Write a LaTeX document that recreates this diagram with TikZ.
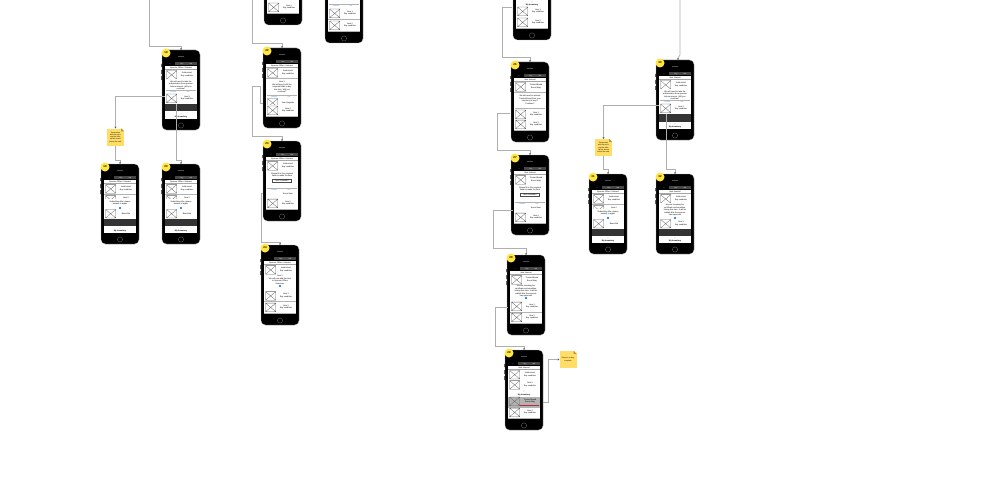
\documentclass[tikz,border=0pt]{standalone}
\usepackage{fontspec}
\setmainfont{Liberation Sans}
\usetikzlibrary{arrows.meta}
\definecolor{notecol}{RGB}{255, 221, 102}
\definecolor{badgecol}{RGB}{255, 230, 70}
\definecolor{linkcol}{RGB}{175, 175, 175}
\definecolor{bandcol}{RGB}{52, 52, 52}
\definecolor{tabcol}{RGB}{70, 70, 70}
\definecolor{bluecol}{RGB}{60, 140, 235}
\definecolor{redcol}{RGB}{190, 40, 60}
\newcommand{\tinytext}{\fontsize{2}{2.5}\selectfont}
\tikzset{
    phone/.style={
        rectangle,
        rounded corners=4.5pt,
        fill=black,
        draw=black!35,
        line width=0.2pt,
        minimum width=38pt,
        minimum height=80pt,
        inner sep=0pt
    },
    badge/.style={
        circle,
        fill=badgecol,
        minimum size=9pt,
        inner sep=0pt,
        font=\fontsize{2.8}{3}\selectfont\bfseries
    },
    label/.style={
        align=center,
        inner sep=0pt,
        font=\tinytext
    },
    button/.style={
        inner sep=0pt,
        text=bluecol,
        font=\tinytext
    },
    tabitem/.style={
        inner sep=0pt,
        text=white,
        font=\fontsize{1.6}{2}\selectfont
    },
    photo/.style={
        draw=black!60,
        line width=0.3pt
    },
    note/.style={
        rectangle,
        fill=notecol,
        align=center,
        inner sep=0pt,
        minimum width=17pt,
        minimum height=17pt,
        font=\fontsize{1.8}{2.2}\selectfont
    },
    dropbox/.style={
        label,
        fill=white,
        draw=black!70,
        line width=0.25pt,
        minimum width=19pt,
        minimum height=3pt
    },
    link/.style={
        draw=linkcol,
        line width=0.8pt,
        -{Stealth[length=1.6pt,width=2pt,black!70]}
    }
}
% --- phone frame: name, left, top, badge, screen content ---
\newcommand{\phoneframe}[5]{
    \begin{scope}[shift={(#2,#3)}]
        \fill[black] (-0.7,14) rectangle (0,17) (-0.7,20) rectangle (0,24) (-0.7,26) rectangle (0,30);
        \node (#1) [phone] at (19,40) {};
        \fill[black!70] (16,6.2) rectangle (22,6.8);
        \fill[blue!40!black] (19,3.5) circle (0.5);
        \draw[black!55, line width=0.3pt] (19,75.5) circle (2.6);
        \fill[white] (3,16) rectangle (34.7,68.7);
        #5
        \ifx&#4&\else\node (#1_badge) [badge] at (4,3) {#4};\fi
    \end{scope}
}
\newcommand{\tabbar}{
    \fill[tabcol] (13,12.4) rectangle (34.6,15.2);
    \node [tabitem] at (8,13.8) {\textless};
    \node [tabitem] at (20,13.8) {Buy};
    \node [tabitem] at (29,13.8) {Sell};
}
\newcommand{\screentitle}[1]{
    \tabbar
    \node [label] at (19,17.6) {#1};
    \fill[black!35] (3,19.2) rectangle (34.7,19.5);
}
% item row: top, text
\newcommand{\itemrow}[2]{
    \fill[white] (3,#1) rectangle (34.7,#1+10.2);
    \fill[black!30] (3,#1+10.1) rectangle (34.7,#1+10.4);
    \draw[photo] (4.5,#1+0.6) rectangle (14.8,#1+9.2) (4.5,#1+0.6) -- (14.8,#1+9.2) (14.8,#1+0.6) -- (4.5,#1+9.2);
    \node [label] at (25,#1+4.6) {#2};
}
% alert: top, bottom, text centre, text
\newcommand{\alertbox}[4]{
    \fill[white] (3,#1) rectangle (34.7,#2);
    \node [label] at (19,#3) {#4};
}
\newcommand{\alertbuttons}[1]{
    \node [button] at (11,#1) {Cancel};
    \node [button] at (26,#1) {OK};
    \fill[black!30] (3.5,#1-1.6) rectangle (34.2,#1-1.4);
}
\newcommand{\spinner}[1]{
    \fill[bluecol] (18.2,#1-0.8) rectangle (19.8,#1+0.8);
}
\newcommand{\darkband}{
    \fill[bandcol] (3,54.5) rectangle (34.7,61.5);
}
\newcommand{\inventory}[1]{
    \fill[white] (3,#1) rectangle (34.7,#1+6);
    \node [label] at (19,#1+3) {\textasciicircum\\\textbf{My Inventory}};
}
\begin{document}
\begin{tikzpicture}[x=1pt, y=-1pt]
    \clip (0,0) rectangle (1000,500);

    % --- FIRST GROUP ---
    \phoneframe{offer_alert}{162}{50}{18}{
        \screentitle{Sponsor Offers / Interest}
        \itemrow{20}{Authorized\\Buy condition}
        \alertbox{29}{44}{35.5}{We will need to take the\\authorization from sponsor\\before interest. Will you\\continue?}
        \alertbuttons{41.7}
        \itemrow{43.5}{Item 3\\Buy condition}
        \darkband
        \inventory{62.8}
    }
    \phoneframe{offer_wait}{101}{164}{19}{
        \screentitle{Sponsor Offers / Interest}
        \itemrow{20}{Authorized\\Buy condition}
        \itemrow{31}{Item 2\\Buy condition}
        \alertbox{35}{45}{39}{Submitting offer, please\\answer to again}
        \spinner{43.8}
        \itemrow{44.8}{Boost Me}
        \darkband
        \inventory{62.8}
    }
    \phoneframe{offer_done}{162}{164}{20}{
        \screentitle{Sponsor Offers / Interest}
        \itemrow{20}{Authorized\\Buy condition}
        \itemrow{31}{Item 2\\Buy condition}
        \alertbox{35}{45}{39}{Submitting offer, please\\answer to again}
        \spinner{43.8}
        \itemrow{44.8}{Boost Me}
        \darkband
        \inventory{62.8}
    }

    % --- SECOND GROUP ---
    \phoneframe{sponsor_top}{264}{-55}{}{
        \itemrow{57.5}{Item 2\\Buy condition}
    }
    \phoneframe{sponsor_side}{325}{-37}{}{
        \alertbuttons{43}
        \itemrow{45.5}{Item 1\\Buy condition}
        \itemrow{57.5}{Item 2\\Buy condition}
    }
    \phoneframe{sponsor_alert}{263}{48}{22}{
        \screentitle{Sponsor Offers / Interest}
        \itemrow{20}{Authorized\\Buy condition}
        \alertbox{31}{51}{39}{Item 2\\We will need to fill the\\required fields to buy\\this item. Will you\\continue?}
        \alertbuttons{48.7}
        \itemrow{50}{Item Upgrade}
        \itemrow{57.5}{Item 2\\Buy condition}
    }
    \phoneframe{sponsor_form}{263}{141}{23}{
        \screentitle{Sponsor Offers / Interest}
        \itemrow{20}{Authorized\\Buy condition}
        \alertbox{30}{51}{34}{Please fill in the required\\fields to make the item}
        \node (sponsor_form_drop) [dropbox] at (19,40) {Item Condition};
        \alertbuttons{48.7}
        \node [label] at (25,52.5) {Boost Item};
        \itemrow{57.5}{Item 2\\Buy condition}
    }
    \phoneframe{sponsor_wait}{261}{245}{24}{
        \screentitle{Sponsor Offers / Interest}
        \itemrow{20}{Authorized\\Buy condition}
        \alertbox{30}{44.5}{35}{Item 2\\We will now add this item\\to Sponsor Offers\\Summary}
        \spinner{41}
        \itemrow{46}{Item 1\\Buy condition}
        \itemrow{57.5}{Item 2\\Buy condition}
    }

    % --- THIRD GROUP ---
    \phoneframe{trusted_top}{513}{-40}{}{
        \inventory{41}
        \itemrow{46.5}{Item 1\\Buy condition}
        \itemrow{57.5}{Item 2\\Buy condition}
    }
    \phoneframe{trusted_alert}{511}{62}{26}{
        \screentitle{Item Interest}
        \itemrow{20}{Trusted Brand\\Boost Mag}
        \alertbox{31}{50}{38}{We will need to activate\\Trusted Brand from your\\inventory to buy it.\\Continue?}
        \alertbuttons{47.5}
        \itemrow{47.5}{Item 1\\Buy condition}
        \itemrow{57.5}{Item 2\\Buy condition}
    }
    \phoneframe{trusted_form}{511}{155}{27}{
        \screentitle{Item Interest}
        \itemrow{20}{Trusted Brand\\Boost Mag}
        \alertbox{30}{51}{34}{Please fill in the required\\fields to make the item}
        \node (trusted_form_drop) [dropbox] at (19,40) {Item Condition};
        \alertbuttons{48.7}
        \node [label] at (25,52.5) {Boost Item};
        \itemrow{57.5}{Item 2\\Buy condition}
    }
    \phoneframe{trusted_wait}{507}{255}{28}{
        \screentitle{Item Interest}
        \itemrow{20}{Trusted Brand\\Boost Mag}
        \alertbox{30}{45.5}{36}{We are checking the\\certificate and condition,\\linking this item. It will be\\added after the sponsor\\has approved}
        \spinner{43}
        \itemrow{46.5}{Item 1\\Buy condition}
        \itemrow{57.5}{Item 2\\Buy condition}
    }
    \phoneframe{trusted_end}{505}{350}{29}{
        \screentitle{Item Interest}
        \itemrow{19.8}{Authorized\\Buy condition}
        \itemrow{30}{Item 2\\Buy condition}
        \inventory{40.3}
        \fill[black!30] (3,46.5) rectangle (34.7,57.5);
        \draw[photo] (4.5,47) rectangle (14.8,55.7) (4.5,47) -- (14.8,55.7) (14.8,47) -- (4.5,55.7);
        \node [label] at (25,51) {Trusted Brand\\Boost Mag};
        \fill[redcol] (15,55.3) rectangle (34,55.9);
        \itemrow{57.5}{Item 2\\Buy condition}
    }

    % --- FOURTH GROUP ---
    \phoneframe{brand_alert}{656}{60}{30}{
        \screentitle{Item Interest}
        \itemrow{20}{Authorized\\Buy condition}
        \alertbox{29}{44}{35.5}{We will need to take the\\authorization from sponsor\\before interest. Will you\\continue?}
        \alertbuttons{41.7}
        \itemrow{43.5}{Item 3\\Buy condition}
        \darkband
        \inventory{62.8}
    }
    \phoneframe{brand_wait}{589}{174}{31}{
        \screentitle{Sponsor Offers / Interest}
        \itemrow{20}{Authorized\\Buy condition}
        \itemrow{31}{Item 2\\Buy condition}
        \alertbox{35}{45}{39}{Submitting offer, please\\answer to again}
        \spinner{43.8}
        \itemrow{44.8}{Boost Me}
        \darkband
        \inventory{62.8}
    }
    \phoneframe{brand_done}{656}{174}{32}{
        \screentitle{Item Interest}
        \itemrow{20}{Authorized\\Buy condition}
        \alertbox{29}{45}{36}{We are checking the\\certificate and condition,\\linking this item. It will be\\added after the sponsor\\has approved}
        \spinner{43.8}
        \itemrow{44.8}{Item 3\\Buy condition}
        \darkband
        \inventory{62.8}
    }

    % --- STICKY NOTES ---
    \node (note_offer) [note] at (115.5,137) {Transaction\\with the price\\and the offer\\will be stored\\before the sale};
    \node (note_brand) [note] at (603.5,147.5) {Transaction\\with the price\\and the offer\\will be stored\\before the sale};
    \node (note_end) [note] at (568,359.5) {Remove or buy\\complete};
    \foreach \corner in {note_offer, note_brand, note_end} {
        \fill[white] (\corner.north east) -- ++(-3,0) -- ++(3,3) -- cycle;
        \fill[notecol!70!black] ([xshift=-3pt]\corner.north east) -- ++(3,3) -- ++(-3,0) -- cycle;
    }

    % --- CONNECTORS ---
    \coordinate (entry_first) at (149,0);
    \coordinate (entry_second) at (252.5,0);
    \coordinate (entry_third) at (680,0);

    \draw [link] (entry_first) |- ([yshift=3pt]offer_alert.north) -- (offer_alert.north);
    \draw [link] ([xshift=3pt,yshift=-6pt]offer_alert.west) -| (note_offer.north);
    \draw [link] (note_offer.south) |- ([yshift=4pt]offer_wait.north) -- (offer_wait.north);
    \draw [link] ([xshift=-5pt,yshift=26pt]offer_alert.south) |- ([yshift=4pt]offer_done.north) -- (offer_done.north);

    \draw [link] (entry_second) |- ([yshift=4pt]sponsor_alert.north) -- (sponsor_alert.north);
    \draw [link] ([yshift=-15pt]sponsor_alert.west) -- ++(-2.5,0) |- ++(-8,-17) |- ([yshift=5pt]sponsor_form.north) -- (sponsor_form.north);
    \draw [link] ([yshift=-12pt]sponsor_form.west) -- ++(-1.5,0) |- ([yshift=3pt]sponsor_wait.north) -- (sponsor_wait.north);

    \draw [link] ([yshift=-7pt,xshift=-1pt]trusted_top.west) -- ++(-10,0) |- ([yshift=4pt]trusted_alert.north) -- (trusted_alert.north);
    \draw [link] ([yshift=-11pt,xshift=-1pt]trusted_alert.west) -- ++(-13,0) |- ([yshift=5pt]trusted_form.north) -- (trusted_form.north);
    \draw [link] ([xshift=2pt,yshift=-15pt]trusted_form.west) -- ++(-20,0) |- ([yshift=7pt]trusted_wait.north) -- (trusted_wait.north);
    \draw [link] ([xshift=1pt,yshift=-12pt]trusted_wait.west) -- ++(-13,0) |- ([yshift=4pt]trusted_end.north) -- (trusted_end.north);
    \draw [link] ([yshift=-12pt]trusted_end.east) -- ++(5,0) |- (note_end.west);

    \draw [link] (entry_third) -- ++(0,55) -- ++(-2,3) -- ([xshift=3pt]brand_alert.north);
    \draw [link] ([xshift=3pt,yshift=-5pt]brand_alert.west) -| (note_brand.north);
    \draw [link] (note_brand.south) |- ([yshift=5pt]brand_wait.north) -- (brand_wait.north);
    \draw [link] ([xshift=-9pt,yshift=26pt]brand_alert.south) |- ([yshift=5pt]brand_done.north) -- (brand_done.north);
\end{tikzpicture}
\end{document}
